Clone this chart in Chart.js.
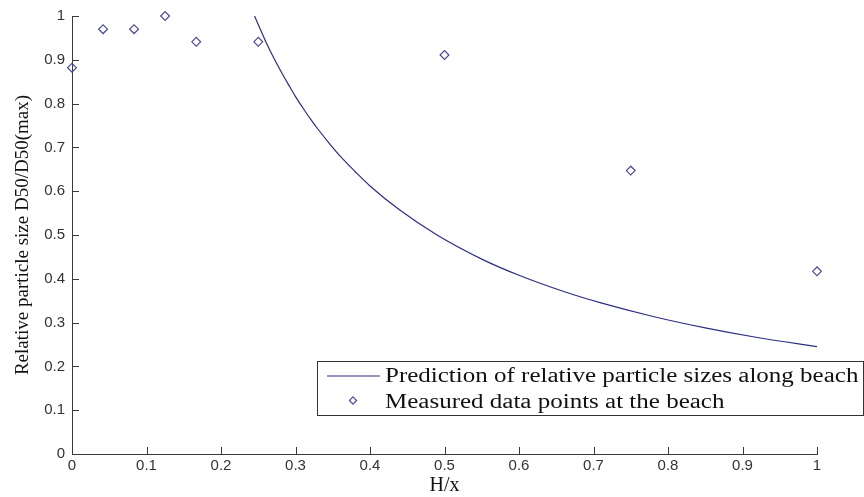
<!DOCTYPE html>
<html>
<head>
<meta charset="utf-8">
<script src="https://cdn.jsdelivr.net/npm/chart.js@4/dist/chart.umd.min.js"></script>
<style>
  html, body { margin: 0; padding: 0; background: #ffffff; }
  #wrap { width: 864px; height: 497px; }
</style>
</head>
<body>
<div id="wrap"><canvas id="c" width="864" height="497"></canvas></div>
<script>
// Prediction curve
const predX = [0.245, 0.26, 0.27, 0.28, 0.29, 0.30, 0.31, 0.32, 0.33, 0.345, 0.36, 0.38, 0.40, 0.44, 0.49, 0.55, 0.60, 0.66, 0.71, 0.78, 0.85, 0.92, 1.0];
const predY = [1.0, 0.942, 0.907, 0.875, 0.845, 0.816, 0.79, 0.765, 0.742, 0.71, 0.68, 0.645, 0.612, 0.557, 0.50, 0.445, 0.408, 0.371, 0.345, 0.314, 0.288, 0.266, 0.245];
// Measured data points
const measX = [0, 0.0417, 0.0833, 0.125, 0.1667, 0.25, 0.5, 0.75, 1.0];
const measY = [0.882, 0.970, 0.970, 1.0, 0.941, 0.941, 0.911, 0.647, 0.417];
// Labels
const seriesNames = ["Prediction of relative particle sizes along beach", "Measured data points at the beach"];
const xTitle = "H/x";
const yTitle = "Relative particle size D50/D50(max)";

const lineColor = '#2e2e80';
const markColor = '#4a4a96';
const axisColor = '#3a3a3a';

const inwardTicks = {
  id: 'inwardTicks',
  afterDraw(chart) {
    const ctx = chart.ctx;
    const xs = chart.scales.x, ys = chart.scales.y;
    const len = 7;
    ctx.save();
    ctx.strokeStyle = axisColor;
    ctx.lineWidth = 1;
    ctx.beginPath();
    xs.ticks.forEach(t => {
      const px = Math.round(xs.getPixelForValue(t.value)) + 0.5;
      ctx.moveTo(px, ys.bottom);
      ctx.lineTo(px, ys.bottom - len);
    });
    ys.ticks.forEach(t => {
      const py = Math.round(ys.getPixelForValue(t.value)) + 0.5;
      ctx.moveTo(xs.left, py);
      ctx.lineTo(xs.left + len, py);
    });
    ctx.stroke();
    ctx.restore();
  }
};

const boxLegend = {
  id: 'boxLegend',
  afterDraw(chart) {
    const ctx = chart.ctx;
    const bx = 317.5, by = 361.5, bw = 546, bh = 54;
    ctx.save();
    ctx.fillStyle = '#ffffff';
    ctx.fillRect(bx, by, bw, bh);
    ctx.strokeStyle = '#333333';
    ctx.lineWidth = 1;
    ctx.strokeRect(bx, by, bw, bh);
    // line sample
    ctx.strokeStyle = lineColor;
    ctx.lineWidth = 1.2;
    ctx.beginPath();
    ctx.moveTo(327, 376);
    ctx.lineTo(380, 376);
    ctx.stroke();
    // diamond sample
    const cx = 353, cy = 400.5, r = 3.6;
    ctx.strokeStyle = markColor;
    ctx.lineWidth = 1.2;
    ctx.beginPath();
    ctx.moveTo(cx, cy - r); ctx.lineTo(cx + r, cy); ctx.lineTo(cx, cy + r); ctx.lineTo(cx - r, cy); ctx.closePath();
    ctx.stroke();
    // texts (horizontally widened as in reference)
    ctx.fillStyle = '#111111';
    ctx.font = '20px "Liberation Serif", "Times New Roman", serif';
    ctx.textBaseline = 'alphabetic';
    ctx.textAlign = 'left';
    const sx = 1.25;
    ctx.save();
    ctx.translate(385, 0);
    ctx.scale(sx, 1);
    ctx.fillText(seriesNames[0], 0, 382);
    ctx.fillText(seriesNames[1], 0, 407.5);
    ctx.restore();
    ctx.restore();
  }
};

new Chart(document.getElementById('c'), {
  type: 'scatter',
  data: {
    datasets: [
      {
        label: seriesNames[0],
        data: predX.map((x, i) => ({ x: x, y: predY[i] })),
        showLine: true,
        borderColor: lineColor,
        borderWidth: 1.2,
        pointRadius: 0,
        pointHoverRadius: 0,
        cubicInterpolationMode: 'monotone',
        fill: false,
        clip: false
      },
      {
        label: seriesNames[1],
        data: measX.map((x, i) => ({ x: x, y: measY[i] })),
        showLine: false,
        pointStyle: 'rectRot',
        pointRadius: 4.4,
        pointBorderWidth: 1.2,
        pointBorderColor: markColor,
        pointBackgroundColor: 'rgba(0,0,0,0)',
        clip: false
      }
    ]
  },
  options: {
    responsive: false,
    animation: false,
    devicePixelRatio: 1,
    layout: { padding: { left: 0, top: 15, right: 47, bottom: 0 } },
    plugins: {
      legend: { display: false },
      tooltip: { enabled: false }
    },
    scales: {
      x: {
        type: 'linear',
        min: 0, max: 1,
        afterFit(s) { s.height = 43; },
        grid: { display: true, drawOnChartArea: false, drawTicks: false },
        border: { display: true, color: axisColor, width: 1 },
        ticks: {
          stepSize: 0.1,
          padding: 3,
          color: '#333333',
          font: { family: '"Liberation Sans", Arial, sans-serif', size: 15 },
          callback: v => String(Math.round(v * 10) / 10)
        },
        title: {
          display: true,
          text: xTitle,
          color: '#111111',
          font: { family: '"Liberation Serif", "Times New Roman", serif', size: 20, lineHeight: 1 },
          padding: { top: 0, bottom: 1 }
        }
      },
      y: {
        type: 'linear',
        min: 0, max: 1,
        afterFit(s) { s.width = 72; },
        grid: { display: true, drawOnChartArea: false, drawTicks: false },
        border: { display: true, color: axisColor, width: 1 },
        ticks: {
          stepSize: 0.1,
          padding: 7,
          color: '#333333',
          font: { family: '"Liberation Sans", Arial, sans-serif', size: 15 },
          callback: v => String(Math.round(v * 10) / 10)
        },
        title: {
          display: true,
          text: yTitle,
          color: '#111111',
          font: { family: '"Liberation Serif", "Times New Roman", serif', size: 19, lineHeight: 1.2 },
          padding: { top: 12, bottom: 0 }
        }
      }
    }
  },
  plugins: [inwardTicks, boxLegend]
});
</script>
</body>
</html>
